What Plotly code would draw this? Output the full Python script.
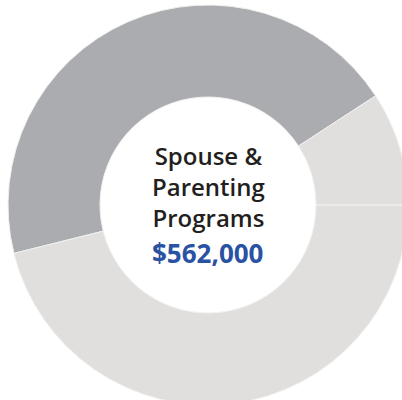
import plotly.graph_objects as go

# Data (segment shares, clockwise starting at the left boundary)
segments = ["Segment A", "Segment B", "Segment C"]
values = [44.7, 9.2, 46.1]
colors = ["#abacaf", "#e0dfde", "#e0dfde"]

title_lines = ["Spouse &", "Parenting", "Programs"]
amount_label = "$562,000"

W, H = 416, 410
CX, CY, R = 208, 205, 200

fig = go.Figure(go.Pie(
    labels=segments,
    values=values,
    sort=False,
    direction="clockwise",
    rotation=256,
    hole=0.54,
    marker=dict(colors=colors, line=dict(color="#f2f1f0", width=1)),
    textinfo="none",
    hoverinfo="none",
    showlegend=False,
    domain=dict(x=[(CX - R) / W, (CX + R) / W], y=[1 - (CY + R) / H, 1 - (CY - R) / H]),
))

fig.add_annotation(
    text="<br>".join(title_lines), x=CX / W, y=1 - 187 / H, xref="paper", yref="paper",
    xanchor="center", yanchor="middle", showarrow=False, align="center",
    font=dict(family="Open Sans", size=24, color="#231f20", weight=600),
)
fig.add_annotation(
    text=amount_label, x=(CX - 1) / W, y=1 - 253 / H, xref="paper", yref="paper",
    xanchor="center", yanchor="middle", showarrow=False,
    font=dict(family="Open Sans", size=26, color="#2a52a3", weight=700),
)

fig.update_layout(
    width=W, height=H,
    margin=dict(l=0, r=0, t=0, b=0),
    paper_bgcolor="white", plot_bgcolor="white",
)

fig.write_html(
    "out.html",
    config={"displayModeBar": False},
    post_script="document.body.style.margin='0';document.body.style.overflow='hidden';document.documentElement.style.overflow='hidden';",
)
